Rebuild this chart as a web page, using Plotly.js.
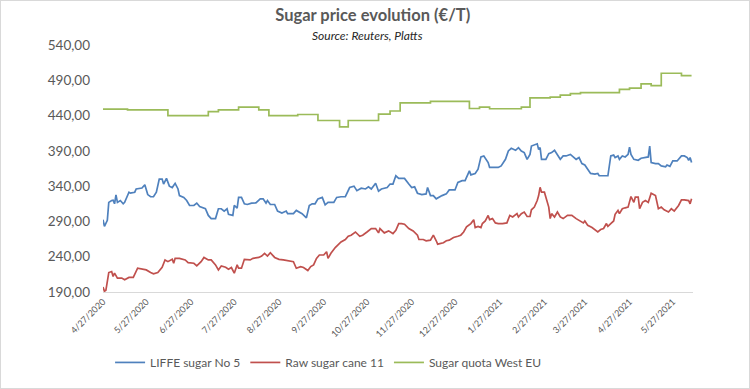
<!DOCTYPE html>
<html>
<head>
<meta charset="utf-8">
<script src="https://cdn.plot.ly/plotly-3.0.1.min.js"></script>
<style>
  html, body { margin: 0; padding: 0; background: #ffffff; }
  #wrap { position: relative; width: 750px; height: 389px; }
  #chart { position: absolute; left: 0; top: 0; width: 750px; height: 389px; }
  #frame { position: absolute; left: 0; top: 0; width: 750px; height: 389px; box-sizing: border-box; border: 1px solid #d9d9d9; pointer-events: none; }
</style>
</head>
<body>
<div id="wrap"><div id="chart"></div><div id="frame"></div></div>
<script>
// ---- Data ----
const seriesNames = ["LIFFE sugar No 5", "Raw sugar cane 11", "Sugar quota West EU"];

const liffeDates = ["2020-04-27","2020-04-28","2020-04-30","2020-05-01","2020-05-03","2020-05-04","2020-05-05","2020-05-06","2020-05-07","2020-05-09","2020-05-11","2020-05-12","2020-05-15","2020-05-16","2020-05-19","2020-05-20","2020-05-24","2020-05-26","2020-05-28","2020-05-30","2020-06-01","2020-06-03","2020-06-05","2020-06-07","2020-06-08","2020-06-10","2020-06-12","2020-06-14","2020-06-16","2020-06-18","2020-06-19","2020-06-22","2020-06-24","2020-06-26","2020-06-29","2020-07-01","2020-07-03","2020-07-07","2020-07-09","2020-07-11","2020-07-14","2020-07-16","2020-07-18","2020-07-20","2020-07-22","2020-07-23","2020-07-26","2020-07-27","2020-07-29","2020-07-30","2020-08-01","2020-08-03","2020-08-05","2020-08-08","2020-08-11","2020-08-14","2020-08-16","2020-08-18","2020-08-19","2020-08-21","2020-08-24","2020-08-26","2020-08-29","2020-09-01","2020-09-02","2020-09-04","2020-09-06","2020-09-08","2020-09-12","2020-09-15","2020-09-17","2020-09-19","2020-09-21","2020-09-23","2020-09-26","2020-09-28","2020-09-30","2020-10-04","2020-10-06","2020-10-09","2020-10-12","2020-10-15","2020-10-18","2020-10-20","2020-10-23","2020-10-26","2020-10-28","2020-10-30","2020-11-02","2020-11-04","2020-11-06","2020-11-10","2020-11-12","2020-11-14","2020-11-16","2020-11-18","2020-11-22","2020-11-25","2020-11-27","2020-11-29","2020-12-01","2020-12-04","2020-12-07","2020-12-08","2020-12-10","2020-12-12","2020-12-14","2020-12-18","2020-12-21","2020-12-23","2020-12-27","2020-12-29","2021-01-01","2021-01-03","2021-01-06","2021-01-07","2021-01-10","2021-01-12","2021-01-14","2021-01-16","2021-01-19","2021-01-20","2021-01-24","2021-01-26","2021-01-28","2021-01-31","2021-02-02","2021-02-04","2021-02-07","2021-02-09","2021-02-11","2021-02-13","2021-02-15","2021-02-17","2021-02-18","2021-02-20","2021-02-22","2021-02-23","2021-02-24","2021-02-25","2021-02-28","2021-03-02","2021-03-04","2021-03-06","2021-03-08","2021-03-10","2021-03-12","2021-03-14","2021-03-17","2021-03-19","2021-03-21","2021-03-23","2021-03-25","2021-03-27","2021-03-29","2021-03-31","2021-04-03","2021-04-05","2021-04-06","2021-04-09","2021-04-12","2021-04-14","2021-04-16","2021-04-17","2021-04-19","2021-04-20","2021-04-22","2021-04-24","2021-04-26","2021-04-27","2021-04-28","2021-04-30","2021-05-03","2021-05-05","2021-05-08","2021-05-10","2021-05-11","2021-05-12","2021-05-15","2021-05-17","2021-05-19","2021-05-22","2021-05-23","2021-05-25","2021-05-27","2021-05-30","2021-06-02","2021-06-04","2021-06-06","2021-06-07","2021-06-08","2021-06-09"];
const liffeValues = [292.5,283,291.5,317,319.6,320,315,327.6,317,319.6,315,317,331.4,330,331.4,336,337.4,342,328,325,325,331.4,350,350,343,351,340,338,344,336,326.6,324,319.6,312.6,312.6,316,311,308,298.5,294,294,308,308,304.7,308,300,298.5,312.6,309,324,324,315,314,316,316.4,322,322,316,319.6,314,314,304.7,302,304.7,301,301,301,305.6,301,295,312.6,315,315,322,324,313.5,317,317,324,325,325,338,340,333.6,337,336,339,336,344,332.8,336,338,343,343,354.7,351,351,343,338,339,330,328,329,338,326.6,326.6,322,326.6,329,334.6,334.6,345.4,347.7,347.7,361.7,356,358,364,381.4,382.8,373.5,366.5,366.5,366.5,368.7,378,389.8,393.6,390.8,394.6,389.8,387.5,378,385,396.8,398,400,392,394.6,378,378,386,387.5,390.8,385,378,382.8,382.8,385,381.4,378,380.5,372,370,364,358,357,358,354.7,354.7,354.7,382.8,384,380.5,382.8,378,382.8,381.4,385,395.4,385,378,376.7,379.5,380.5,381.4,396.8,373.5,372,372,368.7,367.3,370,368,375.7,375.7,382.8,382.8,380.5,376.7,380.5,373.5];

const rawDates = ["2020-04-27","2020-04-28","2020-04-29","2020-05-01","2020-05-03","2020-05-04","2020-05-05","2020-05-07","2020-05-10","2020-05-12","2020-05-15","2020-05-18","2020-05-21","2020-05-24","2020-05-27","2020-05-30","2020-06-01","2020-06-04","2020-06-07","2020-06-09","2020-06-11","2020-06-14","2020-06-15","2020-06-16","2020-06-19","2020-06-23","2020-06-25","2020-06-29","2020-07-01","2020-07-04","2020-07-06","2020-07-09","2020-07-11","2020-07-14","2020-07-16","2020-07-18","2020-07-21","2020-07-23","2020-07-25","2020-07-27","2020-07-29","2020-07-30","2020-08-01","2020-08-03","2020-08-07","2020-08-09","2020-08-13","2020-08-15","2020-08-17","2020-08-19","2020-08-21","2020-08-24","2020-08-27","2020-08-30","2020-09-02","2020-09-04","2020-09-06","2020-09-08","2020-09-11","2020-09-13","2020-09-16","2020-09-18","2020-09-20","2020-09-22","2020-09-24","2020-09-27","2020-09-29","2020-09-30","2020-10-02","2020-10-05","2020-10-07","2020-10-09","2020-10-12","2020-10-14","2020-10-16","2020-10-19","2020-10-22","2020-10-24","2020-10-27","2020-10-30","2020-11-02","2020-11-04","2020-11-05","2020-11-08","2020-11-11","2020-11-14","2020-11-16","2020-11-18","2020-11-20","2020-11-22","2020-11-25","2020-11-28","2020-12-01","2020-12-02","2020-12-05","2020-12-07","2020-12-10","2020-12-12","2020-12-14","2020-12-15","2020-12-19","2020-12-21","2020-12-23","2020-12-26","2020-12-29","2020-12-31","2021-01-02","2021-01-04","2021-01-07","2021-01-09","2021-01-10","2021-01-12","2021-01-14","2021-01-15","2021-01-17","2021-01-19","2021-01-20","2021-01-22","2021-01-24","2021-01-26","2021-01-29","2021-02-01","2021-02-03","2021-02-05","2021-02-08","2021-02-09","2021-02-11","2021-02-13","2021-02-15","2021-02-17","2021-02-18","2021-02-20","2021-02-22","2021-02-23","2021-02-24","2021-02-25","2021-02-27","2021-02-28","2021-03-02","2021-03-03","2021-03-04","2021-03-06","2021-03-08","2021-03-10","2021-03-12","2021-03-15","2021-03-18","2021-03-21","2021-03-24","2021-03-26","2021-03-27","2021-03-29","2021-04-01","2021-04-03","2021-04-05","2021-04-07","2021-04-09","2021-04-11","2021-04-12","2021-04-14","2021-04-16","2021-04-17","2021-04-19","2021-04-20","2021-04-22","2021-04-24","2021-04-26","2021-04-28","2021-04-30","2021-05-01","2021-05-03","2021-05-04","2021-05-06","2021-05-08","2021-05-10","2021-05-12","2021-05-15","2021-05-17","2021-05-19","2021-05-21","2021-05-24","2021-05-26","2021-05-28","2021-05-31","2021-06-02","2021-06-04","2021-06-07","2021-06-08","2021-06-09"];
const rawValues = [197,191,192.4,217.6,219,212,216.7,209.7,209.7,207.3,210.6,210.6,223.7,222.3,221.3,217.6,215.7,217.6,225,235.4,233,236.3,230.7,237.7,237.7,235.4,231.7,230.7,227,233,239,235.4,235.4,228.4,221.3,227,225,222.3,224.7,216.7,228.4,223.7,223.7,236.3,235.4,237.7,239,241,244.8,241,245.7,239,236.3,235.4,234.5,233,233,223.7,226,224.7,220.4,226,228.4,237.7,242.4,242.4,247,237.7,244.8,253,256.4,261,264.4,269,270.5,275,269,270.5,275,279.9,279.9,273.8,279.9,273.8,276.6,272.8,277.5,287,287,286,280,276.6,270.5,264.4,264.4,262.6,263.4,270.5,262.6,257.8,259.8,262.6,263.4,267.2,269,270.5,275,282.2,287,292.5,281.3,283,281.3,287,290.6,298.5,292.5,294,287.9,287,287,287.9,298.5,296.3,301,296.3,301,303.3,297,297,306.5,310.3,319.6,326.6,338.4,331.4,331.4,324.4,310.3,294,301,296.3,303.3,296.3,294,298.5,298.5,294,290.6,287.9,290.6,284.5,281.3,277.5,275,278.5,280,287,283,287,290.6,300,305.6,301,308,309.3,310.3,325.2,317,324.4,324.4,308,317,319.6,317,330,326.6,308,310.3,306.5,303.3,308,304.7,312.6,320.6,320.6,319.6,315,322];

const quotaDates = ["2020-04-27","2020-05-14","2020-06-11","2020-07-09","2020-07-16","2020-07-30","2020-08-13","2020-08-20","2020-09-09","2020-09-23","2020-10-08","2020-10-14","2020-11-04","2020-11-12","2020-11-19","2020-12-10","2021-01-06","2021-01-13","2021-01-20","2021-02-11","2021-02-17","2021-03-03","2021-03-10","2021-03-17","2021-03-24","2021-04-20","2021-04-27","2021-05-05","2021-05-12","2021-05-19","2021-06-02","2021-06-09"];
const quotaValues = [449,448,440,445.5,448,452,448,440,441.5,433,424,433,442,446.5,458,460,450,452,449.7,452,465,466,469,471,472.5,477,479,485,482.5,500,496.5,496.5];

const tickDates = ["2020-04-27","2020-05-27","2020-06-27","2020-07-27","2020-08-27","2020-09-27","2020-10-27","2020-11-27","2020-12-27","2021-01-27","2021-02-27","2021-03-27","2021-04-27","2021-05-27"];
const tickLabels = ["4/27/2020","5/27/2020","6/27/2020","7/27/2020","8/27/2020","9/27/2020","10/27/2020","11/27/2020","12/27/2020","1/27/2021","2/27/2021","3/27/2021","4/27/2021","5/27/2021"];
const yTicks = [190, 240, 290, 340, 390, 440, 490, 540];

// ---- Chart ----
const FONT = "Lato, 'Open Sans', 'Liberation Sans', sans-serif";
const GREY = "#595959";

const traces = [
  { x: liffeDates, y: liffeValues, name: seriesNames[0], type: "scatter", mode: "lines",
    line: { color: "#4F81BD", width: 1.7 } },
  { x: rawDates, y: rawValues, name: seriesNames[1], type: "scatter", mode: "lines",
    line: { color: "#C0504D", width: 1.7 } },
  { x: quotaDates, y: quotaValues, name: seriesNames[2], type: "scatter", mode: "lines",
    line: { color: "#9BBB59", width: 1.7, shape: "hv" } }
];

const layout = {
  width: 750, height: 389,
  margin: { l: 103, r: 57, t: 45, b: 95 },
  paper_bgcolor: "#ffffff", plot_bgcolor: "#ffffff",
  separators: ",.",
  font: { family: FONT, color: GREY },
  title: {
    text: "<b>Sugar price evolution (€/T)</b>",
    font: { family: FONT, size: 16.5, color: GREY },
    x: 0.497, xanchor: "center", xref: "container",
    y: 1 - 15 / 389, yanchor: "middle", yref: "container"
  },
  annotations: [{
    text: "<i>Source: Reuters, Platts</i>",
    xref: "paper", x: (367 - 103) / 590, xanchor: "center",
    yref: "paper", y: 1 + 10 / 249, yanchor: "middle",
    showarrow: false, font: { family: FONT, size: 12, color: "#262626" }
  }],
  xaxis: {
    type: "date",
    range: ["2020-04-27", "2021-06-10"],
    tickmode: "array", tickvals: tickDates, ticktext: tickLabels,
    tickangle: -45,
    tickfont: { family: FONT, size: 9, color: GREY },
    showgrid: false, zeroline: false,
    showline: true, linecolor: "#d9d9d9", linewidth: 1,
    ticks: "", fixedrange: true
  },
  yaxis: {
    range: [190, 540],
    tickmode: "array", tickvals: yTicks,
    tickformat: ".2f",
    tickfont: { family: FONT, size: 13.5, color: GREY },
    showgrid: false, zeroline: false, showline: false,
    ticks: "", ticklabelstandoff: 12, fixedrange: true
  },
  legend: {
    orientation: "h",
    x: 0.012, xanchor: "left",
    y: -71 / 249, yanchor: "middle",
    font: { family: FONT, size: 12, color: GREY },
    itemwidth: 30,
    bgcolor: "rgba(0,0,0,0)"
  },
  showlegend: true
};

Plotly.newPlot("chart", traces, layout, { displayModeBar: false, staticPlot: true });
</script>
</body>
</html>
